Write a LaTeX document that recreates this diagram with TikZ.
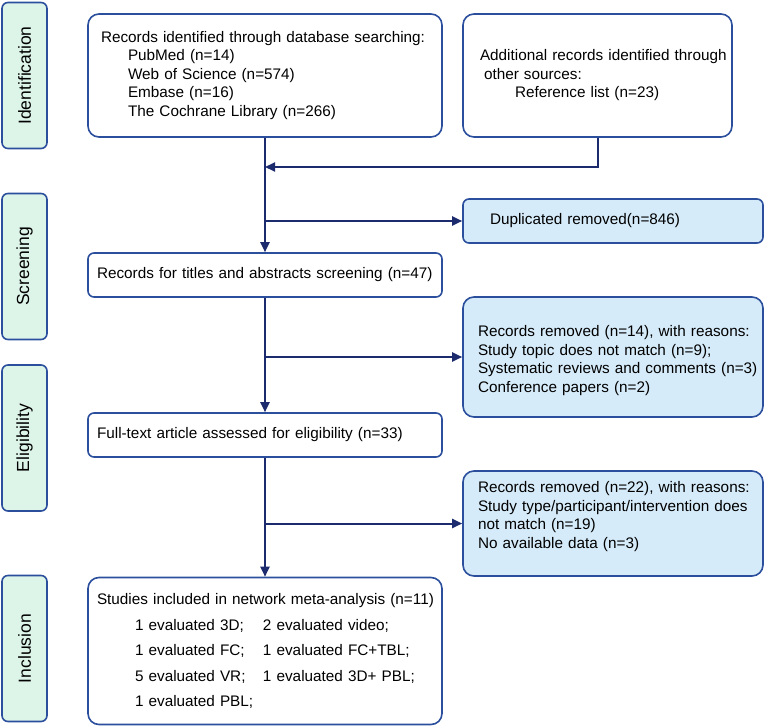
\documentclass[tikz,border=0pt]{standalone}
\usepackage{fontspec}
\setmainfont{Liberation Sans}
\usetikzlibrary{arrows.meta}
\definecolor{boxblue}{HTML}{2B4F9C}
\definecolor{linenavy}{HTML}{1C2B6E}
\definecolor{stagegreen}{HTML}{DDF4E9}
\definecolor{removedblue}{HTML}{D6EBF9}
\tikzset{
  stage/.style={draw=boxblue, fill=stagegreen, line width=1.6pt, rounded corners=6pt, rotate=90,
    minimum width=146pt, minimum height=45pt, inner sep=0pt, font=\fontsize{17.5}{20}\selectfont},
  record/.style={draw=boxblue, fill=white, line width=1.6pt, rounded corners=6pt, align=left,
    inner xsep=2pt, inner ysep=0pt, font=\fontsize{15.3}{18.5}\selectfont},
  removed/.style={record, fill=removedblue},
  flow/.style={draw=linenavy, line width=2pt, -{Triangle[length=10pt,width=9pt]}},
}
\begin{document}
\begin{tikzpicture}[x=1pt,y=-1pt]
\useasboundingbox (0,0) rectangle (767,725);
\node[stage] (sident) at (24.5,75.5) {Identification};
\node[stage] (sscreen) at (24.5,266.5) {Screening};
\node[stage] (selig) at (24.5,438) {Eligibility};
\node[stage] (sincl) at (24.5,648.5) {Inclusion};
\node[record, rounded corners=11pt, text width=350pt, minimum height=123pt] (ident) at (265,75.5)
  {\hspace*{11pt}Records identified through database searching:\\
   \hspace*{38pt}PubMed (n=14)\\
   \hspace*{38pt}Web of Science (n=574)\\
   \hspace*{38pt}Embase (n=16)\\
   \hspace*{38pt}The Cochrane Library (n=266)};
\node[record, rounded corners=11pt, text width=265pt, minimum height=123pt] (add) at (597.5,75.5)
  {\hspace*{15pt}Additional records identified through\\
   \hspace*{19pt}other sources:\\
   \hspace*{50pt}Reference list (n=23)};
\node[removed, text width=296pt, minimum height=44pt] (dup) at (613,221)
  {\hspace*{25pt}Duplicated removed(n=846)};
\node[record, text width=350pt, minimum height=44pt] (titles) at (265,275)
  {\hspace*{7pt}Records for titles and abstracts screening (n=47)};
\node[removed, rounded corners=11pt, text width=296pt, minimum height=120pt] (rem1) at (613,357)
  {\rule{0pt}{18pt}\hspace*{13pt}Records removed (n=14), with reasons:\\
   \hspace*{13pt}Study topic does not match (n=9);\\
   \hspace*{13pt}Systematic reviews and comments (n=3)\\
   \hspace*{13pt}Conference papers (n=2)};
\node[record, text width=350pt, minimum height=44pt] (full) at (265,435)
  {\hspace*{7pt}Full-text article assessed for eligibility (n=33)};
\node[removed, rounded corners=11pt, text width=296pt, minimum height=105pt] (rem2) at (613,523.5)
  {\hspace*{13pt}Records removed (n=22), with reasons:\\
   \hspace*{13pt}Study type/participant/intervention does\\
   \hspace*{13pt}not match (n=19)\\
   \hspace*{13pt}No available data (n=3)\rule[-17pt]{0pt}{1pt}};
\node[record, rounded corners=11pt, text width=350pt, minimum height=147pt,
  font=\fontsize{15.3}{25.5}\selectfont] (incl) at (265,651)
  {\hspace*{7pt}Studies included in network meta-analysis (n=11)\\
   \hspace*{45pt}\makebox[128pt][l]{1 evaluated 3D;}2 evaluated video;\\
   \hspace*{45pt}\makebox[128pt][l]{1 evaluated FC;}1 evaluated FC+TBL;\\
   \hspace*{45pt}\makebox[128pt][l]{5 evaluated VR;}1 evaluated 3D+ PBL;\\
   \hspace*{45pt}1 evaluated PBL;};
\coordinate (merge) at (265,167);
\draw[flow] (add.south) |- (merge);
\draw[flow] (ident.south) -- (titles.north);
\draw[flow] (ident.south |- dup.west) -- (dup.west);
\draw[flow] (titles.south) -- (full.north);
\draw[flow] (titles.south |- rem1.west) -- (rem1.west);
\draw[flow] (full.south) -- (incl.north);
\draw[flow] (full.south |- rem2.west) -- (rem2.west);
\end{tikzpicture}
\end{document}
